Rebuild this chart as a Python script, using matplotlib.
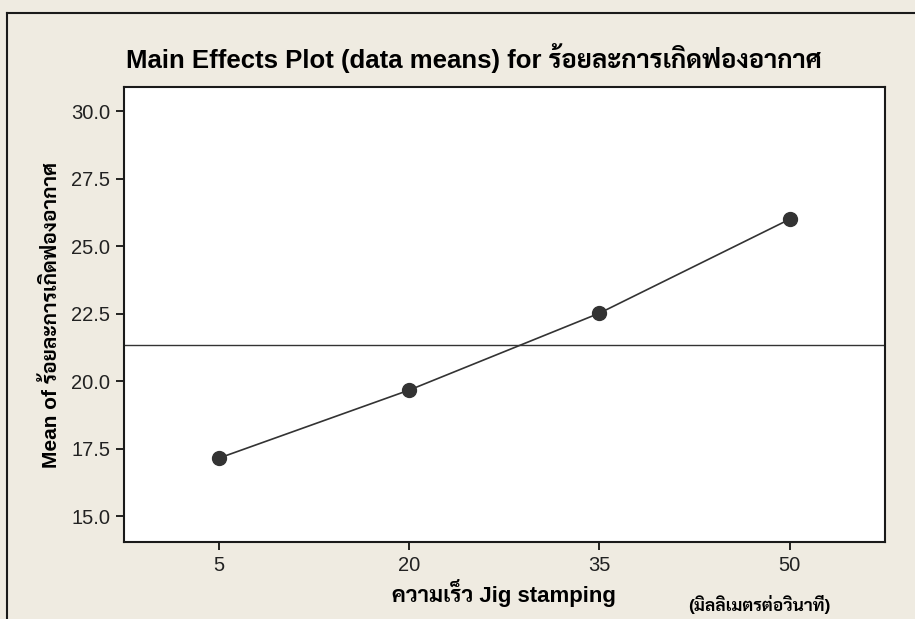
import matplotlib
matplotlib.use("Agg")
import matplotlib.pyplot as plt
from matplotlib.lines import Line2D

# speed levels and mean bubble percentage at each level
speeds = ["5", "20", "35", "50"]
means = [17.15, 19.67, 22.52, 26.0]
yticks = [15.0, 17.5, 20.0, 22.5, 25.0, 27.5, 30.0]

thai = ["Liberation Sans", "Sarabun"]

fig = plt.figure(figsize=(9.15, 6.19), dpi=100, facecolor="#EFEBE1")
ax = fig.add_axes([0.1355, 0.1244, 0.8315, 0.7351])
ax.set_facecolor("white")

x = list(range(len(speeds)))
ax.plot(x, means, color="#333333", lw=1.2, marker="o", ms=10,
        mfc="#333333", mec="#333333", zorder=3)
grand = sum(means) / len(means)
ax.axhline(grand, color="#333333", lw=1.0)

ax.set_xlim(-0.5, 3.5)
ax.set_ylim(14.04, 30.9)
ax.set_xticks(x)
ax.set_xticklabels(speeds)
ax.set_yticks(yticks)
ax.set_yticklabels([f"{v:.1f}" for v in yticks])
ax.tick_params(direction="out", length=6, width=1.2, labelsize=14.5, pad=4,
               labelcolor="#222222")
for lab in ax.get_xticklabels() + ax.get_yticklabels():
    lab.set_family(thai)
for s in ax.spines.values():
    s.set_linewidth(1.5)
    s.set_color("#1a1a1a")

fig.text(0.518, 0.906, "Main Effects Plot (data means) for ร้อยละการเกิดฟองอากาศ",
         ha="center", va="center", fontsize=18.5, fontweight="bold", family=thai)
ax.set_ylabel("Mean of ร้อยละการเกิดฟองอากาศ", fontsize=15, fontweight="bold",
              family=thai, labelpad=7)
ax.set_xlabel("ความเร็ว Jig stamping", fontsize=16, fontweight="bold",
              family=thai, labelpad=3)
fig.text(0.83, 0.023, "(มิลลิเมตรต่อวินาที)", ha="center", va="center",
         fontsize=12.5, fontweight="bold", family=thai)

# frame around the graph window
fig.add_artist(Line2D([7 / 915, 7 / 915], [0, 1 - 13 / 619], transform=fig.transFigure,
                      color="#1a1a1a", lw=1.5))
fig.add_artist(Line2D([7 / 915, 1], [1 - 13 / 619, 1 - 13 / 619], transform=fig.transFigure,
                      color="#1a1a1a", lw=1.5))

fig.savefig("out.png", facecolor=fig.get_facecolor())
